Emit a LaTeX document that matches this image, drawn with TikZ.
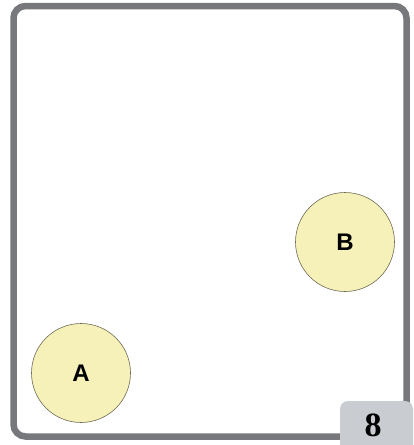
\documentclass[tikz,border=0pt]{standalone}
\usepackage{fontspec}
\setmainfont{Liberation Serif}
\newfontfamily\labelfont{Liberation Sans}
\usepackage{tikz}
\usetikzlibrary{arrows.meta,calc}

\definecolor{framegray}{HTML}{77787B}
\definecolor{tabgray}{HTML}{C9CDD1}
\definecolor{ballfill}{HTML}{F5F1B8}
\definecolor{balledge}{HTML}{6E6A55}

\begin{document}
\begin{tikzpicture}[x=1pt, y=-1pt,
    ball/.style={circle, draw=balledge, fill=ballfill, line width=0.6pt,
                 minimum size=99pt, inner sep=0pt,
                 font=\labelfont\bfseries\fontsize{24}{24}\selectfont}]
    % 画布大小
    \useasboundingbox (0,0) rectangle (413,445);

    % 绘制外框
    \draw[framegray, line width=6.5pt, rounded corners=12pt] (13.5,6) rectangle (406.5,436.5);

    % 绘制两个小球
    \node[ball] (A) at (81,373) {A};
    \node[ball] (B) at (345,242) {B};

    % 绘制页码标签
    \fill[tabgray, rounded corners=8pt] (340,445) -- (340,401) -- (413,401) [sharp corners] -- (413,445) -- cycle;
    \node[font=\bfseries\fontsize{34}{34}\selectfont] (page) at (373,425) {8};
\end{tikzpicture}
\end{document}
